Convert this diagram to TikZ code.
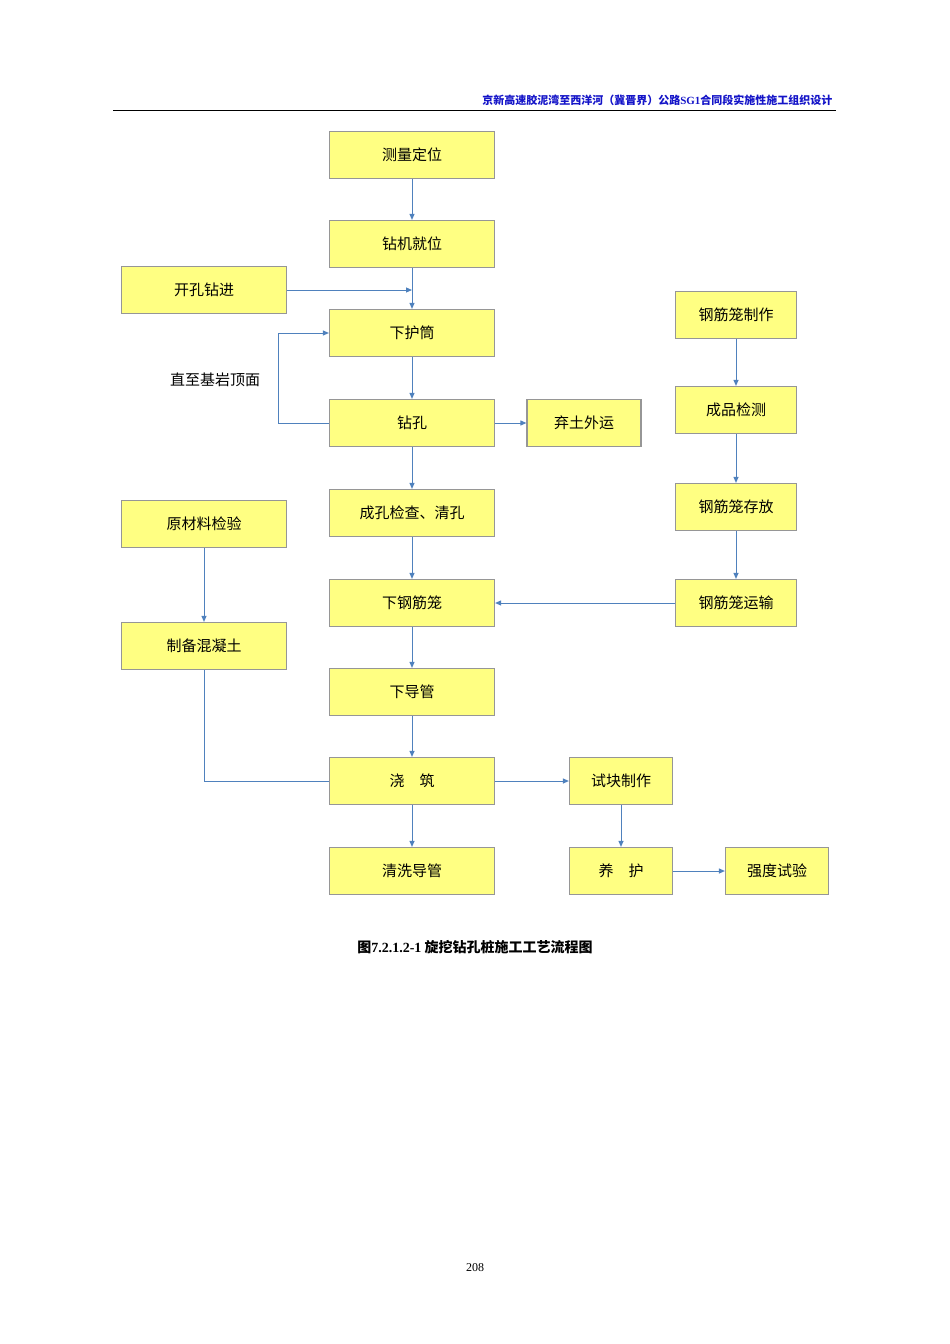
\documentclass[tikz,border=0pt]{standalone}
\usepackage{fontspec}
\setmainfont{Liberation Serif}
\newfontfamily\cjk{Noto Sans CJK SC}
\usetikzlibrary{arrows.meta}
\definecolor{boxfill}{RGB}{255,255,130}
\definecolor{boxline}{RGB}{150,150,150}
\definecolor{arr}{RGB}{79,129,189}
\definecolor{hdr}{RGB}{20,20,200}
\begin{document}
\begin{tikzpicture}[x=1pt,y=-1pt,
  pbox/.style={draw=boxline,line width=1.2pt,fill=boxfill,minimum height=47pt,font=\cjk\fontsize{15}{15}\selectfont,inner sep=0pt},
  wbox/.style={pbox,minimum width=165pt},
  mbox/.style={pbox,minimum width=121pt},
  sbox/.style={pbox,minimum width=103pt},
  flow/.style={draw=arr,line width=1pt,-{Triangle[length=6pt,width=5pt]}},
  plain/.style={draw=arr,line width=1pt}]
\useasboundingbox (0,0) rectangle (950,1344);
\node[anchor=east,text=hdr,font=\cjk\bfseries\fontsize{11}{11}\selectfont] (hd) at (836,100) {京新高速胶泥湾至西洋河（冀晋界）公路\textbf{\rmfamily SG1}合同段实施性施工组织设计};
\draw[line width=1pt] (113,110) -- (836,110);
\node[wbox] (a) at (412,155) {测量定位};
\node[wbox] (b) at (412,244) {钻机就位};
\node[wbox] (k) at (204,290) {开孔钻进};
\node[wbox] (c) at (412,333) {下护筒};
\node[wbox] (d) at (412,423) {钻孔};
\node[pbox,minimum width=114pt] (q) at (584,423) {弃土外运};
\node[wbox] (e) at (412,513) {成孔检查、清孔};
\node[wbox] (f) at (412,603) {下钢筋笼};
\node[wbox] (g) at (412,692) {下导管};
\node[wbox] (h) at (412,781) {浇\quad 筑};
\node[wbox] (i) at (412,871) {清洗导管};
\node[wbox] (y1) at (204,524) {原材料检验};
\node[wbox] (y2) at (204,646) {制备混凝土};
\node[mbox] (r1) at (736,315) {钢筋笼制作};
\node[mbox] (r2) at (736,410) {成品检测};
\node[mbox] (r3) at (736,507) {钢筋笼存放};
\node[mbox] (r4) at (736,603) {钢筋笼运输};
\node[sbox] (t1) at (621,781) {试块制作};
\node[sbox] (t2) at (621,871) {养\quad 护};
\node[sbox] (t3) at (777,871) {强度试验};
\node[font=\cjk\fontsize{15}{15}\selectfont] (lbl) at (215,380) {直至基岩顶面};
\coordinate (m) at (412,290);
\draw[flow] (a) -- (b);
\draw[flow] (b) -- (c);
\draw[flow] (k) -- (m);
\draw[flow] (c) -- (d);
\draw[flow] (d.west) -- (278,423) -- (278,333) -- (c.west);
\draw[flow] (d) -- (q);
\draw[flow] (d) -- (e);
\draw[flow] (e) -- (f);
\draw[flow] (f) -- (g);
\draw[flow] (g) -- (h);
\draw[flow] (h) -- (i);
\draw[flow] (y1) -- (y2);
\draw[plain] (y2.south) -- (204,781) -- (h.west);
\draw[flow] (r1) -- (r2);
\draw[flow] (r2) -- (r3);
\draw[flow] (r3) -- (r4);
\draw[flow] (r4) -- (f);
\draw[flow] (h) -- (t1);
\draw[flow] (t1) -- (t2);
\draw[flow] (t2) -- (t3);
\node[font=\cjk\bfseries\fontsize{14}{14}\selectfont] (cap) at (475,947) {图{\rmfamily\bfseries 7.2.1.2-1} 旋挖钻孔桩施工工艺流程图};
\node[font=\fontsize{12}{12}\selectfont] (pg) at (475,1268) {208};
\end{tikzpicture}
\end{document}
